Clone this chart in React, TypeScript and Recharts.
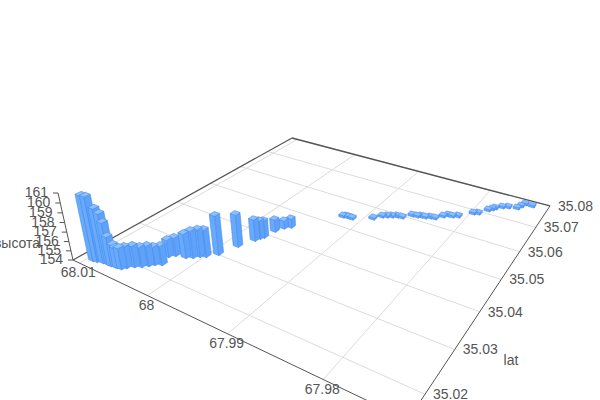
import { ScatterChart, Scatter, XAxis, YAxis } from 'recharts'

const lons = [
  68.00934, 68.00884, 68.00816, 68.00767, 68.00735, 68.00703, 68.00654, 68.00622, 68.00574, 68.00545,
  68.0049, 68.0043, 68.00383, 68.00345, 68.00285, 68.00335, 68.00288, 68.00171, 68.00109, 68.00061,
  68.00008, 67.99925, 67.99853, 67.99776, 67.99755, 67.99731, 67.99706, 67.9966, 67.99606, 67.99228,
  67.99199, 67.99157, 67.99116, 67.9891, 67.98844, 67.98795, 67.98746, 67.98697, 67.98637, 67.98559,
  67.98499, 67.9846, 67.98411, 67.98361, 67.98305, 67.98243, 67.98203, 67.98154, 67.98095, 67.97972,
  67.97922, 67.97848, 67.97816, 67.97794, 67.97731, 67.9767, 67.97571, 67.97546, 67.9752, 67.97433,
]
const lats = [
  35.01719, 35.01736, 35.01772, 35.0179, 35.01788, 35.01786, 35.01803, 35.01802, 35.01818, 35.01886,
  35.01981, 35.02047, 35.02133, 35.02211, 35.02277, 35.02517, 35.02607, 35.02659, 35.02726, 35.02817,
  35.02875, 35.03042, 35.03428, 35.03754, 35.03859, 35.03926, 35.04208, 35.04389, 35.04491, 35.05357,
  35.05389, 35.05388, 35.05386, 35.05611, 35.05775, 35.05829, 35.05883, 35.05937, 35.05955, 35.06134,
  35.06152, 35.06195, 35.06202, 35.06256, 35.06274, 35.06432, 35.06522, 35.06529, 35.06593, 35.06869,
  35.06923, 35.07149, 35.07232, 35.07305, 35.07423, 35.07489, 35.07548, 35.07675, 35.07803, 35.07797,
]
const heights = [
  160.84, 160.83, 159.71, 159.29, 158.46, 157.1, 156.36, 156.14, 156.24, 156.25,
  156.25, 156.14, 156.15, 155.94, 156.04, 155.86, 155.98, 156.61, 156.93, 156.97,
  156.94, 158.23, 157.54, 156.37, 156.04, 155.94, 155.39, 154.93, 155.05, 154.24,
  154.24, 154.24, 154.24, 154.24, 154.24, 154.24, 154.24, 154.24, 154.24, 154.24,
  154.24, 154.24, 154.24, 154.24, 154.24, 154.24, 154.24, 154.24, 154.25, 154.25,
  154.25, 154.25, 154.25, 154.25, 154.25, 154.25, 154.25, 154.25, 154.25, 154.25,
]
const lonTicks = [68.01, 68, 67.99, 67.98]
const latTicks = [35.02, 35.03, 35.04, 35.05, 35.06, 35.07, 35.08]
const altTicks = [154, 155, 156, 157, 158, 159, 160, 161]

const WIDTH = 600
const HEIGHT = 400
const LON_MIN = 67.9725
const LON_MAX = 68.011
const LAT_MIN = 35.015
const LAT_MAX = 35.08
const ALT_MIN = 154
const HALF_BAR = 0.0095

// perspective of the floor (u along lon, v along lat) plus the height axis
function project(u: number, v: number, z = 0): [number, number] {
  const w = -0.2852 * u + 0.4554 * v + 1 - 0.0071 * z
  return [
    (218.6 * u + 352 * v + 73 - 2.55 * z) / w,
    (40.2 * u - 59.2 * v + 260 - 10.94 * z) / w,
  ]
}
const toU = (lon: number) => (LON_MAX - lon) / (LON_MAX - LON_MIN)
const toV = (lat: number) => (lat - LAT_MIN) / (LAT_MAX - LAT_MIN)
const depth = (lon: number, lat: number) => -0.2852 * toU(lon) + 0.4554 * toV(lat)

// far bars first so the near ones paint over them
const data = lons
  .map((lon, i) => ({ lon, lat: lats[i], alt: heights[i] }))
  .sort((a, b) => depth(b.lon, b.lat) - depth(a.lon, a.lat))

const poly = (pts: [number, number][]) => pts.map((p) => p.join(',')).join(' ')

const Bar3D = ({ cx, cy, payload }: any) => {
  const u = cx / WIDTH
  const v = 1 - cy / HEIGHT
  const z = payload.alt - ALT_MIN
  const u0 = u - HALF_BAR, u1 = u + HALF_BAR
  const v0 = v - HALF_BAR, v1 = v + HALF_BAR
  const edge = { stroke: '#4a8bee', strokeWidth: 0.6, strokeLinejoin: 'round' as const }
  return (
    <g>
      <polygon
        points={poly([project(u0, v0), project(u1, v0), project(u1, v0, z), project(u0, v0, z)])}
        fill="#68abfc"
        {...edge}
      />
      <polygon
        points={poly([project(u1, v0), project(u1, v1), project(u1, v1, z), project(u1, v0, z)])}
        fill="#5fa2f9"
        {...edge}
      />
      <polygon
        points={poly([project(u0, v0, z), project(u1, v0, z), project(u1, v1, z), project(u0, v1, z)])}
        fill="#8cc1fd"
        {...edge}
      />
    </g>
  )
}

const line = (a: [number, number], b: [number, number], stroke: string, strokeWidth: number, key: string) => (
  <line key={key} x1={a[0]} y1={a[1]} x2={b[0]} y2={b[1]} stroke={stroke} strokeWidth={strokeWidth} />
)

const Floor = () => {
  const label = { fill: '#555', fontSize: 14, fontFamily: 'Liberation Sans, Arial, sans-serif' }
  return (
    <g>
      {lonTicks.map((t) => line(project(toU(t), 0), project(toU(t), 1), '#dcdcdc', 1, `lon${t}`))}
      {latTicks.map((t) => line(project(0, toV(t)), project(1, toV(t)), '#dcdcdc', 1, `lat${t}`))}
      {line(project(0, 0), project(0, 1), '#555', 1.2, 'edgeA')}
      {line(project(0, 1), project(1, 1), '#555', 1.4, 'edgeB')}
      {line(project(0, 0), project(1, 0), '#555', 1, 'edgeC')}
      {line(project(1, 1), project(1, 0), '#555', 1, 'edgeD')}
      {line(project(0, 0), project(0, 0, 161 - ALT_MIN), '#555', 1, 'edgeZ')}
      {altTicks.map((t) => {
        const [x, y] = project(0, 0, t - ALT_MIN)
        return (
          <g key={t}>
            <line x1={x - 5} y1={y} x2={x} y2={y} stroke="#555" strokeWidth={1} />
            <text x={x - 10} y={y - 1} textAnchor="end" dominantBaseline="central" {...label}>{t}</text>
          </g>
        )
      })}
      {lonTicks.map((t) => {
        const [x, y] = project(toU(t), 0)
        return <text key={t} x={x - 1} y={y + 9} textAnchor="middle" dominantBaseline="central" {...label}>{t}</text>
      })}
      {latTicks.map((t) => {
        const [x, y] = project(1, toV(t))
        return <text key={t} x={x + 8} y={y} textAnchor="start" dominantBaseline="central" {...label}>{t}</text>
      })}
      <text x={17} y={243} textAnchor="middle" dominantBaseline="central" {...label}>высота</text>
      <text x={511} y={360} textAnchor="middle" dominantBaseline="central" {...label}>lat</text>
    </g>
  )
}

export default function App() {
  return (
    <div style={{ position: 'absolute', left: 0, top: 0, width: WIDTH, height: HEIGHT, background: '#fff' }}>
      <ScatterChart width={WIDTH} height={HEIGHT} data={data} margin={{ top: 0, right: 0, bottom: 0, left: 0 }}>
        <XAxis hide type="number" dataKey="lon" domain={[LON_MIN, LON_MAX]} reversed allowDataOverflow />
        <YAxis hide type="number" dataKey="lat" domain={[LAT_MIN, LAT_MAX]} allowDataOverflow />
        <Floor />
        <Scatter data={data} shape={<Bar3D />} isAnimationActive={false} />
      </ScatterChart>
    </div>
  )
}
